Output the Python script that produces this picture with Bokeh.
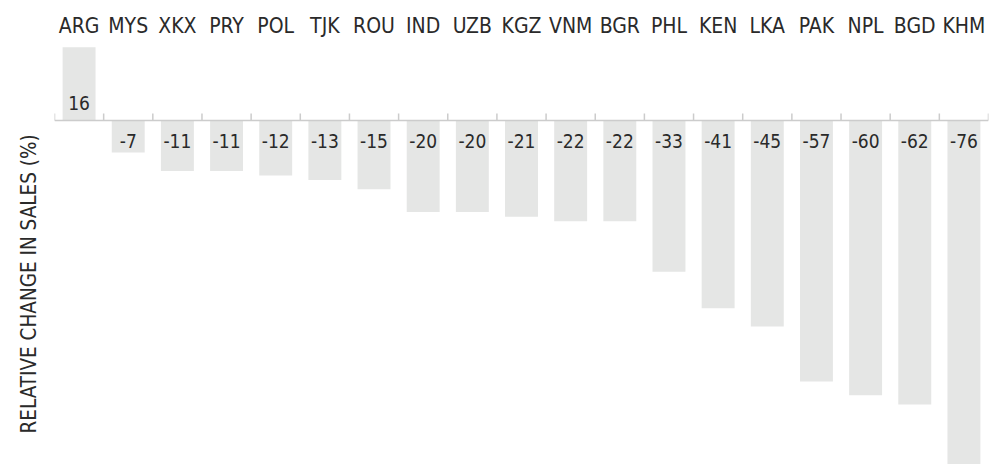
import math
from bokeh.plotting import figure
from bokeh.models import Range1d, Span, Title, ColumnDataSource
from bokeh.core.properties import value
from bokeh.embed import file_html
from bokeh.resources import INLINE

countries = ["ARG", "MYS", "XKX", "PRY", "POL", "TJK", "ROU", "IND", "UZB", "KGZ",
             "VNM", "BGR", "PHL", "KEN", "LKA", "PAK", "NPL", "BGD", "KHM"]
change = [16, -7, -11, -11, -12, -13, -15, -20, -20, -21,
          -22, -22, -33, -41, -45, -57, -60, -62, -76]
y_title = "RELATIVE CHANGE IN SALES (%)"

FONT = "DejaVu Sans Condensed"
TEXT = "#2a2a2a"
BAR = "#e5e6e5"
AXIS = "#cccccc"

src = ColumnDataSource(dict(c=countries, v=change))
pos = ColumnDataSource(dict(
    c=[c for c, v in zip(countries, change) if v >= 0],
    lab=[str(v) for v in change if v >= 0]))
neg = ColumnDataSource(dict(
    c=[c for c, v in zip(countries, change) if v < 0],
    lab=[str(v) for v in change if v < 0]))

p = figure(x_range=countries, y_range=Range1d(-75.1, 16.59),
           frame_width=934, frame_height=420,
           x_axis_location="above", y_axis_location=None,
           toolbar_location=None, output_backend="svg",
           min_border_left=54, min_border_right=13,
           min_border_top=44, min_border_bottom=0)
p.outline_line_color = None
p.xgrid.visible = False
p.ygrid.visible = False

ax = p.xaxis[0]
ax.axis_line_color = None
ax.major_tick_line_color = None
ax.minor_tick_line_color = None
ax.major_tick_out = 0
ax.major_label_text_font = FONT
ax.major_label_text_font_size = "21px"
ax.major_label_text_color = TEXT
ax.major_label_standoff = 7

p.vbar(x="c", top="v", bottom=0, width=0.67, source=src,
       fill_color=BAR, line_color=None)

p.add_layout(Span(location=0, dimension="width", line_color=AXIS, line_width=1.5))
bounds = list(range(len(countries) + 1))
p.segment(x0=bounds, y0=[0] * len(bounds), x1=bounds, y1=[1.5] * len(bounds),
          line_color=AXIS, line_width=1.5)

p.text(x="c", y=0, text="lab", source=pos, text_align="center",
       text_baseline="middle", y_offset=-17, text_font=value(FONT),
       text_font_size="19px", text_color=TEXT)
p.text(x="c", y=0, text="lab", source=neg, text_align="center",
       text_baseline="middle", y_offset=21, text_font=value(FONT),
       text_font_size="19px", text_color=TEXT)

t = Title(text=y_title, align="left", offset=31, standoff=27, text_font=FONT,
          text_font_size="20.5px", text_font_style="normal", text_color=TEXT)
p.add_layout(t, "left")

open("out.html", "w").write(file_html(p, INLINE))
